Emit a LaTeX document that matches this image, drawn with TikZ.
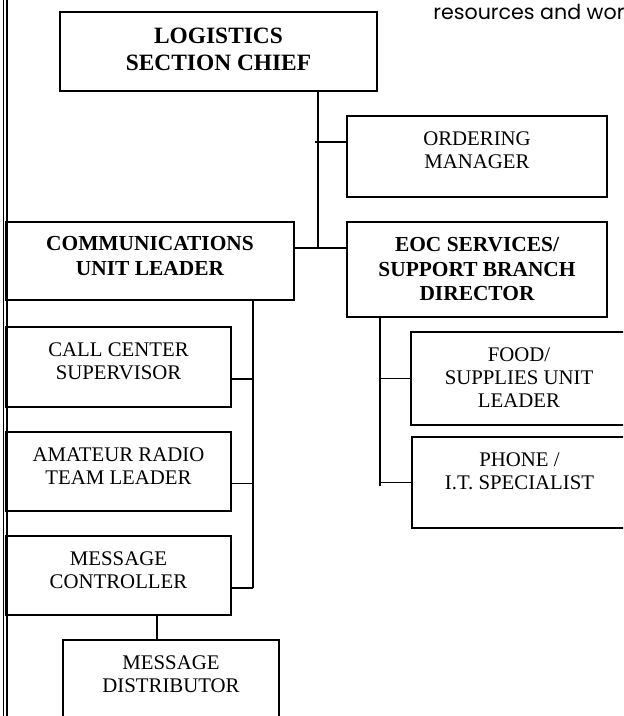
\documentclass[tikz,border=0pt]{standalone}
\usepackage{fontspec}
\setmainfont{Liberation Serif}
\newfontfamily\gothic{Poppins}
\usetikzlibrary{positioning}

\begin{document}
\begin{tikzpicture}[x=0.5pt,y=-0.5pt,
  box/.style={draw,line width=0.75pt,inner sep=0pt},
  link/.style={line width=0.8pt},
  bold/.style={font=\bfseries\fontsize{10.7}{12.2}\selectfont,align=center,inner sep=0pt},
  plain/.style={font=\fontsize{10.4}{11.6}\selectfont,align=center,inner sep=0pt}]
\useasboundingbox (0,0) rectangle (623,716);
\clip (0,0) rectangle (623,716);

% page frame on the left
\draw[line width=0.4pt] (3,0) -- (3,716);
\draw[line width=1.3pt] (7,0) -- (7,716);
% running text, cut off at the edge
\node[anchor=base west,inner sep=0pt,font=\gothic\fontsize{10.3}{12}\selectfont] (run) at (433,20) {resources and wor};

% boxes
\node[box,minimum width=158.5pt,minimum height=39.5pt] (logi) at (218.5,51.5) {};
\node[box,minimum width=130pt,minimum height=40.5pt] (order) at (477,156.5) {};
\node[box,minimum width=144pt,minimum height=39pt] (comms) at (150,261) {};
\node[box,minimum width=130pt,minimum height=47.5pt] (eoc) at (477,269.5) {};
\node[box,minimum width=112.5pt,minimum height=40pt] (callc) at (118.5,367) {};
\node[box,minimum width=112.5pt,minimum height=39.5pt] (radio) at (118.5,471.5) {};
\node[box,minimum width=112.5pt,minimum height=39.5pt] (ctrl) at (118.5,575.5) {};
\node[box,minimum width=108pt,minimum height=39.5pt] (distr) at (171,679.5) {};
\node[box,minimum width=108pt,minimum height=46.5pt] (food) at (519,378.5) {};
\node[box,minimum width=107.5pt,minimum height=45.5pt] (phone) at (519.5,482.5) {};

% titles, set at the top of each box
\node[bold,font=\bfseries\fontsize{11.7}{13.5}\selectfont,below=8pt of logi.north] (logit) {LOGISTICS\\SECTION CHIEF};
\node[plain,below=8pt of order.north] (ordert) {ORDERING\\MANAGER};
\node[bold,below=7.5pt of comms.north] (commst) {COMMUNICATIONS\\UNIT LEADER};
\node[bold,below=8pt of eoc.north] (eoct) {EOC SERVICES/\\SUPPORT BRANCH\\DIRECTOR};
\node[plain,below=8pt of callc.north] (callct) {CALL CENTER\\SUPERVISOR};
\node[plain,below=8pt of radio.north] (radiot) {AMATEUR RADIO\\TEAM LEADER};
\node[plain,below=8pt of ctrl.north] (ctrlt) {MESSAGE\\CONTROLLER};
\node[plain,below=8pt of distr.north] (distrt) {MESSAGE\\DISTRIBUTOR};
\node[plain,below=8pt of food.north] (foodt) {FOOD/\\SUPPLIES UNIT\\LEADER};
\node[plain,below=8pt of phone.north] (phonet) {PHONE /\\I.T. SPECIALIST};

% joints of the connectors
\coordinate (jl) at (318,248);
\coordinate (jo) at (315,142);
\coordinate (jc) at (253,588);
\coordinate (jd) at (157,615);
\coordinate (je) at (380,486);

% logistics chief to its branches
\draw[link] (logi.south -| jl) -- (jl);
\draw[link] (jo) -- (jo -| order.west);
\draw[link] (jl -| comms.east) -- (jl -| eoc.west);

% communications unit
\draw[link] (comms.south -| jc) -- (jc);
\draw[link] ([yshift=-6pt]callc.east) -- ([yshift=-6pt]callc.east -| jc);
\draw[link] ([yshift=-6pt]radio.east) -- ([yshift=-6pt]radio.east -| jc);
\draw[link] (jc -| ctrl.east) -- (jc);
\draw[link] (ctrl.south -| jd) -- (distr.north -| jd);

% support branch
\draw[link] (eoc.south -| je) -- (je);
\draw[link] (food.west -| je) -- (food.west);
\draw[link] (phone.west -| je) -- (phone.west);
\end{tikzpicture}
\end{document}
